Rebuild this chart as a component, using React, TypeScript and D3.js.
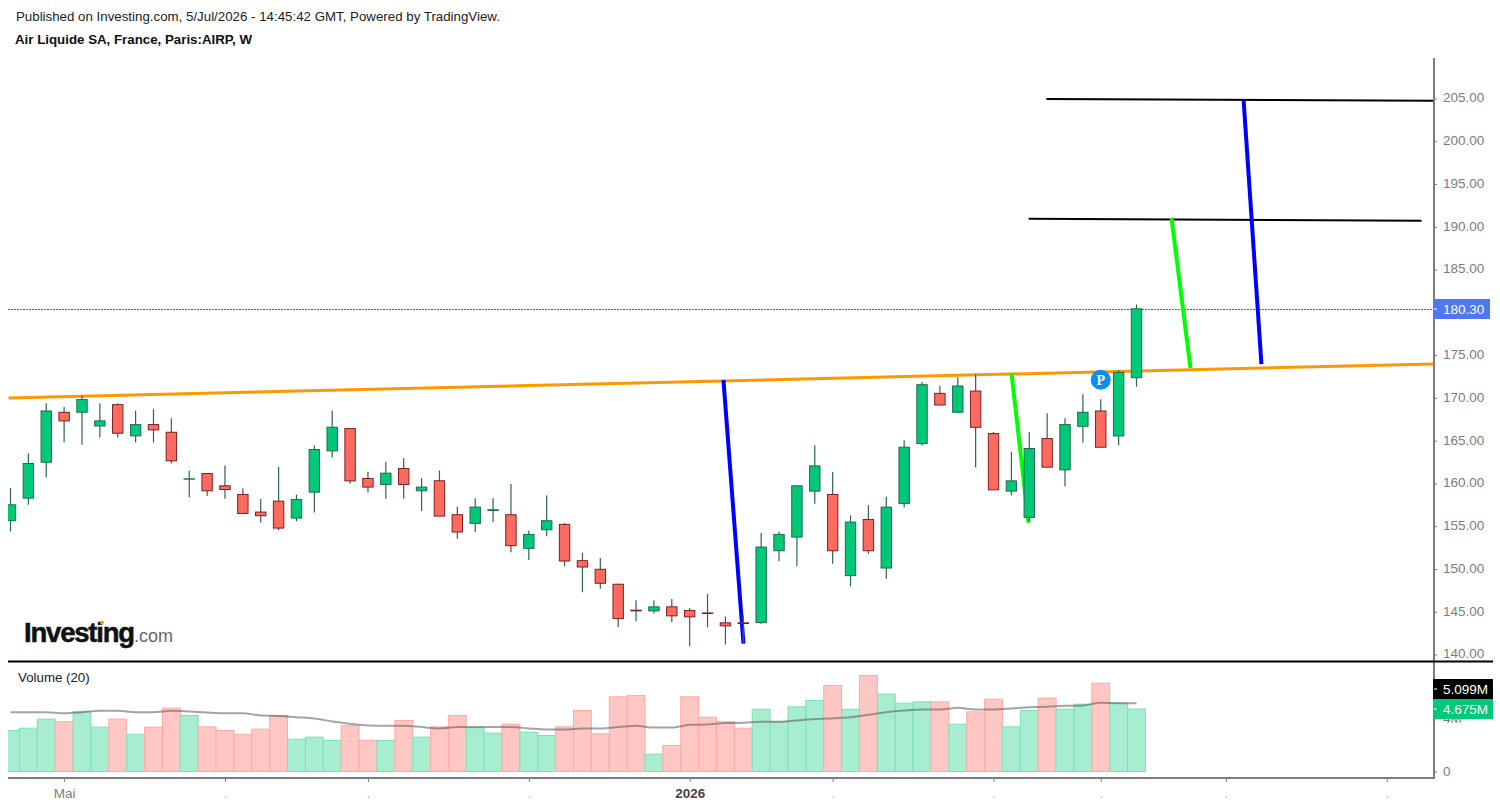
import React from "react";
import * as d3 from "d3";

const WIDTH = 1500;
const HEIGHT = 807;
const PLOT = { left: 8, right: 1434, top: 58, priceBottom: 661, bottom: 778 };

const opens = [
  155.64, 158.28, 162.48, 168.32, 168.32, 166.72, 169.21, 165.56, 166.88, 165.98,
  160.5, 161.16, 159.72, 158.71, 156.65, 157.93, 155.95, 158.98, 163.81, 166.41,
  160.58, 159.88, 161.75, 159.14, 160.31, 156.34, 155.33, 156.84, 156.34, 152.41,
  154.59, 155.21, 150.97, 149.96, 148.21, 145.18, 145.1, 145.57, 145.14, 144.86,
  143.7, 143.7, 143.73, 152.13, 153.73, 159.1, 158.71, 149.22, 155.79, 150.11,
  157.66, 164.66, 170.53, 168.32, 170.8, 165.83, 159.1, 156.03, 165.24, 161.59,
  166.68, 168.47, 165.55, 172.36,
];
const closes = [
  157.5, 162.33, 168.47, 167.31, 169.8, 167.31, 165.87, 166.88, 166.26, 162.64,
  160.54, 159.14, 159.29, 156.49, 156.22, 154.78, 158.13, 163.96, 166.57, 160.3,
  159.57, 161.2, 159.88, 159.57, 156.18, 154.32, 157.23, 156.92, 152.72, 154.04,
  155.64, 150.93, 150.23, 148.33, 144.2, 145.1, 145.57, 144.52, 144.4, 144.79,
  143.35, 143.62, 152.56, 154.04, 159.72, 162.05, 152.13, 155.48, 152.13, 157.23,
  164.23, 171.54, 169.17, 171.39, 166.56, 159.25, 160.3, 164.08, 161.9, 166.88,
  168.32, 164.23, 172.98, 180.41,
];
const highs = [
  159.45, 163.53, 169.37, 168.94, 170.26, 169.37, 169.37, 168.51, 168.67, 167.62,
  161.51, 161.16, 162.09, 159.45, 158.17, 161.94, 158.71, 164.43, 168.51, 166.41,
  161.36, 162.52, 162.95, 160.62, 161.51, 157.27, 158.28, 158.28, 159.92, 154.51,
  158.59, 155.37, 151.87, 151.28, 148.29, 146.34, 146.34, 146.5, 145.45, 147.08,
  144.44, 144.55, 154.2, 154.35, 159.72, 164.47, 161.35, 156.26, 157.46, 158.44,
  165.05, 171.86, 171.43, 172.4, 172.75, 166.02, 163.69, 166.02, 168.2, 167.62,
  170.42, 169.83, 173.26, 180.92,
];
const lows = [
  154.39, 157.5, 160.69, 164.82, 164.51, 165.36, 165.36, 164.78, 164.78, 162.33,
  158.36, 158.52, 158.2, 156.49, 155.44, 154.55, 155.56, 156.61, 163.03, 159.95,
  158.94, 158.21, 158.21, 156.77, 156.18, 153.54, 154.28, 155.45, 151.94, 151.05,
  153.81, 150.31, 147.28, 147.7, 143.19, 143.89, 144.79, 143.78, 140.97, 143.19,
  141.17, 141.3, 143.6, 150.89, 150.31, 157.62, 150.62, 147.97, 151.79, 148.87,
  157.19, 164.43, 169.17, 168.32, 161.86, 159.25, 158.63, 155.56, 161.9, 159.64,
  164.78, 164.23, 164.46, 171.31,
];
const volumes = [
  3.07, 3.24, 3.92, 3.72, 4.46, 3.32, 3.92, 2.79, 3.32, 4.74,
  4.19, 3.34, 3.07, 2.79, 3.17, 4.19, 2.42, 2.57, 2.32, 3.44,
  2.34, 2.32, 3.82, 2.57, 3.34, 4.19, 3.27, 2.87, 3.54, 2.94,
  2.69, 3.34, 4.56, 2.82, 5.59, 5.69, 1.3, 1.95, 5.59, 4.06,
  3.72, 3.24, 4.66, 3.72, 4.84, 5.31, 6.43, 4.66, 7.18, 5.79,
  5.11, 5.21, 5.21, 3.54, 4.46, 5.41, 3.34, 4.56, 5.49, 4.66,
  5.04, 6.61, 5.11, 4.675,
];
const volumeMa = [
  4.44, 4.44, 4.44, 4.36, 4.44, 4.54, 4.54, 4.44, 4.44, 4.54,
  4.49, 4.41, 4.36, 4.36, 4.19, 4.16, 4.06, 3.97, 3.74, 3.57,
  3.44, 3.42, 3.42, 3.32, 3.22, 3.32, 3.32, 3.32, 3.32, 3.22,
  3.14, 3.14, 3.22, 3.22, 3.32, 3.42, 3.29, 3.29, 3.49, 3.52,
  3.62, 3.64, 3.72, 3.72, 3.82, 3.92, 3.99, 4.06, 4.24, 4.44,
  4.56, 4.64, 4.64, 4.76, 4.64, 4.64, 4.71, 4.81, 4.84, 4.91,
  4.94, 5.14, 5.11, 5.099,
];

// 180.00 sits under the last price tag in the original, so it is left out
const priceTicks = [140, 145, 150, 155, 160, 165, 170, 175, 185, 190, 195, 200, 205];
const dateTickIndex = [3, 12, 20, 29, 38, 46, 55, 61, 68, 77];
const dateTickLabels = ["Mai", ".", ".", ".", "2026", ".", ".", ".", ".", "."];

const lastPrice = 180.3;
const lastVolume = 4.675;
const lastVolumeMa = 5.099;

// drawings on the chart, [bar index, price]
const trendLines: { color: string; width: number; points: [number, number][] }[] = [
  { color: "#ff9800", width: 3, points: [[-0.11, 169.99], [79.62, 173.97]] },
  { color: "#000000", width: 2, points: [[57.96, 204.95], [79.62, 204.75]] },
  { color: "#000000", width: 2, points: [[56.96, 190.95], [78.95, 190.72]] },
  { color: "#0000ff", width: 4, points: [[39.89, 172.09], [41.01, 141.28]] },
  { color: "#0000ff", width: 4, points: [[68.99, 204.88], [69.99, 173.96]] },
  { color: "#00ff00", width: 4, points: [[56.01, 172.79], [56.96, 155.4]] },
  { color: "#00ff00", width: 4, points: [[64.96, 190.99], [66.02, 173.49]] },
];

const FONT = "'Liberation Sans', Arial, sans-serif";
const GREY = "#7c7c7c";
const UP = "#00c876";
const DOWN = "#ff6a60";

const App = () => {
  const ref = React.useRef<SVGSVGElement>(null);

  React.useEffect(() => {
    const svg = d3.select(ref.current!);
    svg.selectAll("*").remove();
    svg.style("font-family", FONT);

    const x = d3.scaleLinear().domain([0, 63]).range([10.5, 1136.5]);
    const y = d3.scaleLinear().domain([140, 205]).range([654.5, 98.5]);
    const yVol = d3.scaleLinear().domain([0, lastVolume]).range([771.5, 709]);
    const step = x(1) - x(0);
    const isUp = (i: number) => closes[i] >= opens[i];

    svg
      .append("clipPath")
      .attr("id", "plot")
      .append("rect")
      .attr("x", PLOT.left)
      .attr("y", PLOT.top)
      .attr("width", PLOT.right - PLOT.left)
      .attr("height", PLOT.bottom - PLOT.top);

    const plot = svg.append("g").attr("clip-path", "url(#plot)");

    // volume
    plot
      .append("g")
      .selectAll("rect")
      .data(volumes)
      .enter()
      .append("rect")
      .attr("x", (_, i) => x(i) - step / 2)
      .attr("y", (d) => yVol(d))
      .attr("width", step)
      .attr("height", (d) => yVol(0) - yVol(d))
      .attr("fill", (_, i) => (isUp(i) ? "#a6eecf" : "#ffc7c4"))
      .attr("stroke", (_, i) => (isUp(i) ? "#7ce3b6" : "#ffaaa5"))
      .attr("stroke-width", 1);

    plot
      .append("path")
      .attr(
        "d",
        d3
          .line<number>()
          .x((_, i) => x(i))
          .y((d) => yVol(d))
          .curve(d3.curveMonotoneX)(volumeMa)
      )
      .attr("fill", "none")
      .attr("stroke", "rgba(90,90,90,0.55)")
      .attr("stroke-width", 2);

    // last price line
    const lastY = Math.round(y(closes[63])) + 0.5;
    plot
      .append("line")
      .attr("x1", PLOT.left)
      .attr("x2", PLOT.right)
      .attr("y1", lastY)
      .attr("y2", lastY)
      .attr("stroke", "#2a5cff")
      .attr("stroke-dasharray", "2 1");

    // drawings go under the candles
    trendLines.forEach((t) => {
      svg
        .append("path")
        .attr("d", d3.line<[number, number]>().x((d) => x(d[0])).y((d) => y(d[1]))(t.points))
        .attr("fill", "none")
        .attr("stroke", t.color)
        .attr("stroke-width", t.width);
    });

    // candles
    const candles = svg.append("g").attr("clip-path", "url(#plot)");
    candles
      .selectAll("line")
      .data(opens)
      .enter()
      .append("line")
      .attr("x1", (_, i) => x(i))
      .attr("x2", (_, i) => x(i))
      .attr("y1", (_, i) => y(highs[i]))
      .attr("y2", (_, i) => y(lows[i]))
      .attr("stroke", "#2b6650")
      .attr("stroke-width", 1.2);
    candles
      .selectAll("rect")
      .data(opens)
      .enter()
      .append("rect")
      .attr("x", (_, i) => x(i) - 5.2)
      .attr("y", (d, i) => y(Math.max(d, closes[i])))
      .attr("width", 10.4)
      .attr("height", (d, i) => Math.abs(y(d) - y(closes[i])))
      .attr("fill", (_, i) => (isUp(i) ? UP : DOWN))
      .attr("stroke", (_, i) => (isUp(i) ? "#1f6b50" : "#7a2220"))
      .attr("stroke-width", 1);

    // P marker
    const marker = svg.append("g").attr("transform", `translate(${x(61)}, ${y(172.12)})`);
    marker.append("circle").attr("r", 10).attr("fill", "#0b8ef2");
    marker
      .append("text")
      .attr("text-anchor", "middle")
      .attr("y", 5)
      .attr("fill", "#fff")
      .style("font-family", "'Liberation Serif', serif")
      .style("font-weight", "bold")
      .style("font-size", "14px")
      .text("P");

    // axes
    const priceAxis = d3
      .axisRight(y)
      .tickValues(priceTicks)
      .tickSize(3)
      .tickPadding(6)
      .tickFormat(d3.format(".2f") as any);
    const gPrice = svg.append("g").attr("transform", `translate(${PLOT.right}, 0)`).call(priceAxis);

    const volAxis = d3
      .axisRight(yVol)
      .tickValues([0, 4])
      .tickSize(3)
      .tickPadding(6)
      .tickFormat((d) => (d === 0 ? "0" : `${d}M`));
    const gVol = svg.append("g").attr("transform", `translate(${PLOT.right}, 0)`).call(volAxis);

    const dateAxis = d3
      .axisBottom(x)
      .tickValues(dateTickIndex)
      .tickSize(4)
      .tickPadding(6)
      .tickFormat((_, i) => dateTickLabels[i]);
    const gDate = svg.append("g").attr("transform", `translate(0, ${PLOT.bottom})`).call(dateAxis);

    [gPrice, gVol, gDate].forEach((g) => {
      g.select(".domain").remove();
      g.selectAll("line").attr("stroke", GREY);
      g.selectAll("text")
        .attr("fill", GREY)
        .style("font-family", FONT)
        .style("font-size", "13.5px");
    });
    gPrice.selectAll("text").attr("dy", "0.25em");
    gDate
      .selectAll("text")
      .filter((d) => d === 38)
      .attr("fill", "#444")
      .style("font-weight", "bold");
    gDate
      .selectAll("text")
      .filter((_, i) => dateTickLabels[i] === ".")
      .attr("fill", "#b5b5b5");

    svg
      .append("path")
      .attr("d", `M${PLOT.left},${PLOT.bottom}H${PLOT.right}V${PLOT.top}`)
      .attr("fill", "none")
      .attr("stroke", GREY)
      .attr("stroke-width", 2);

    // pane divider
    svg
      .append("line")
      .attr("x1", PLOT.left)
      .attr("x2", 1493)
      .attr("y1", PLOT.priceBottom + 0.5)
      .attr("y2", PLOT.priceBottom + 0.5)
      .attr("stroke", "#000")
      .attr("stroke-width", 2);

    // price tags
    const tags = [
      { top: 299, h: 20, fill: "#4f78ee", label: d3.format(".2f")(lastPrice), w: 57 },
      { top: 679, h: 20, fill: "#000", label: `${lastVolumeMa.toFixed(3)}M`, w: 60 },
      { top: 699, h: 20, fill: "#00c978", label: `${lastVolume.toFixed(3)}M`, w: 60 },
    ];
    tags.forEach((t) => {
      svg
        .append("rect")
        .attr("x", 1433)
        .attr("y", t.top)
        .attr("width", t.w)
        .attr("height", t.h)
        .attr("fill", t.fill);
      svg
        .append("line")
        .attr("x1", 1434)
        .attr("x2", 1437)
        .attr("y1", t.top + t.h / 2)
        .attr("y2", t.top + t.h / 2)
        .attr("stroke", "#fff");
      svg
        .append("text")
        .attr("x", 1443)
        .attr("y", t.top + 15)
        .attr("fill", "#fff")
        .style("font-size", "13.5px")
        .text(t.label);
    });

    // header
    svg
      .append("text")
      .attr("x", 16)
      .attr("y", 21)
      .attr("fill", "#222")
      .style("font-size", "13.3px")
      .text("Published on Investing.com, 5/Jul/2026 - 14:45:42 GMT, Powered by TradingView.");
    svg
      .append("text")
      .attr("x", 15)
      .attr("y", 44)
      .attr("fill", "#111")
      .style("font-size", "13.3px")
      .style("font-weight", "bold")
      .text("Air Liquide SA, France, Paris:AIRP, W");
    svg
      .append("text")
      .attr("x", 18)
      .attr("y", 682)
      .attr("fill", "#222")
      .style("font-size", "13.3px")
      .text("Volume (20)");

    // logo
    const logo = svg.append("text").attr("x", 24).attr("y", 642);
    logo
      .append("tspan")
      .attr("fill", "#111")
      .attr("stroke", "#111")
      .attr("stroke-width", 0.5)
      .style("font-size", "27.5px")
      .style("font-weight", "bold")
      .style("letter-spacing", "-1.2px")
      .text("Investing");
    logo.append("tspan").attr("fill", "#666").style("font-size", "18px").text(".com");
    svg.append("circle").attr("cx", 102).attr("cy", 622.5).attr("r", 2).attr("fill", "#f7a11a");
  }, []);

  return (
    <svg
      ref={ref}
      width={WIDTH}
      height={HEIGHT}
      style={{ position: "absolute", left: 0, top: 0, background: "#fff" }}
    />
  );
};

export default App;
